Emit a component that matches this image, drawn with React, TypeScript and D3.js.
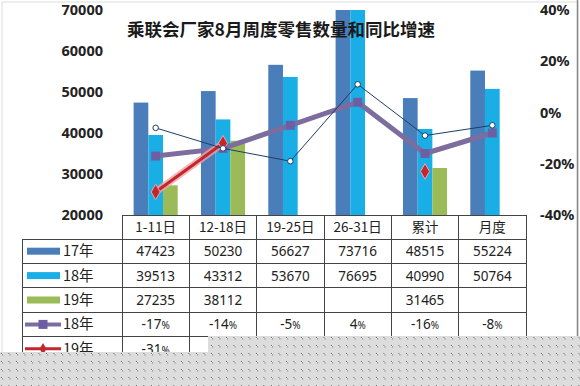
import * as React from 'react';
import * as d3 from 'd3';

const categories = ['1-11日', '12-18日', '19-25日', '26-31日', '累计', '月度'];
const sales17 = [47423, 50230, 56627, 73716, 48515, 55224];
const sales18 = [39513, 43312, 53670, 76695, 40990, 50764];
const sales19: (number | null)[] = [27235, 38112, null, null, 31465, null];
const growth18 = [-17, -14, -5, 4, -16, -8];
const growth19: (number | null)[] = [-31, -12, null, null, -23, null];
// thin line shown in the plot but not in the table
const growthThin = [-6, -14, -19, 11, -9, -5];
const leftTicks = [20000, 30000, 40000, 50000, 60000, 70000];
const rightTicks = [-40, -20, 0, 20, 40];
const barSeries = ['17年', '18年', '19年'];

const C17 = '#4a7ebb';
const C18 = '#1aaee6';
const C19 = '#9bbb59';
const CPURPLE = '#7d6c9e';
const CRED = '#c1272d';
const CTHIN = '#1f3d66';

const W = 580;
const H = 386;
const plotTop = 10;
const plotBottom = 215;
const tableLeft = 122;
const tableRight = 526;
const legendLeft = 22;
const rowH = 24.4;
const headerBottom = 239;

const cjk = '"Noto Sans CJK SC", "Noto Sans", sans-serif';
const num = '"Noto Sans", "Liberation Sans", sans-serif';

const x0 = d3.scaleBand<string>().domain(categories).range([tableLeft, tableRight]).padding(0);
const x1 = d3.scaleBand<string>().domain(barSeries).range([0, x0.bandwidth()]).paddingInner(0).paddingOuter(0.79);
const yL = d3.scaleLinear().domain([20000, 70000]).range([plotBottom, plotTop]);
const yR = d3.scaleLinear().domain([-40, 40]).range([plotBottom, plotTop]);

const cx = (i: number) => (x0(categories[i]) || 0) + x0.bandwidth() / 2;

const lineGen = d3
  .line<number | null>()
  .defined((d) => d != null)
  .x((d, i) => cx(i))
  .y((d) => yR(d as number));

const Pct: React.FC<{ v: number | null; x: number; y: number }> = ({ v, x, y }) =>
  v == null ? null : (
    <text x={x} y={y} textAnchor="middle" fontFamily={num} fontSize={13.5} fill="#222">
      {v}
      <tspan fontSize={10}>%</tspan>
    </text>
  );

const App: React.FC = () => {
  const barData = [sales17, sales18, sales19];
  const barColors = [C17, C18, C19];
  const rowsY = d3.range(6).map((k) => headerBottom + k * rowH);
  const diamond = d3.symbol(d3.symbolDiamond, 70)() || '';

  const legendItems = [
    { label: '17年', kind: 'bar', color: C17 },
    { label: '18年', kind: 'bar', color: C18 },
    { label: '19年', kind: 'bar', color: C19 },
    { label: '18年', kind: 'square', color: CPURPLE },
    { label: '19年', kind: 'diamond', color: CRED },
  ];
  const tableRows: ((number | null)[] | null)[] = [sales17, sales18, sales19];
  const pctRows = [growth18, growth19];

  return (
    <svg width={W} height={H} style={{ position: 'absolute', left: 0, top: 0, background: '#fff' }}>
      <defs>
        <clipPath id="plotClip">
          <rect x={0} y={plotTop} width={W} height={plotBottom - plotTop} />
        </clipPath>
        <pattern id="dots" width={7.5} height={8} patternUnits="userSpaceOnUse">
          <rect width={7.5} height={8} fill="#dddddd" />
          <rect x={1} y={1} width={1} height={1} fill="#555" />
          <rect x={2} y={1} width={1} height={1} fill="#f4f4f4" />
          <rect x={1} y={2} width={1} height={1} fill="#f4f4f4" />
          <rect x={2} y={2} width={1} height={1} fill="#888" />
          <rect x={2} y={3} width={1} height={1} fill="#aaa" />
        </pattern>
      </defs>
      <rect x={2} y={2} width={W - 4} height={H - 4} fill="#fff" stroke="#dedede" />

      {/* bars */}
      <g clipPath="url(#plotClip)">
        {barData.map((series, s) =>
          series.map((v, i) =>
            v == null ? null : (
              <rect
                key={`${s}-${i}`}
                x={(x0(categories[i]) || 0) + (x1(barSeries[s]) || 0)}
                y={yL(v)}
                width={x1.bandwidth()}
                height={plotBottom - yL(v)}
                fill={barColors[s]}
              />
            ),
          ),
        )}
      </g>

      {/* title */}
      <text x={281} y={36} textAnchor="middle" fontFamily={cjk} fontWeight="bold" fontSize={17.5} fill="#1a1a1a">
        乘联会厂家8月周度零售数量和同比增速
      </text>

      {/* purple line */}
      <path d={lineGen(growth18) || ''} fill="none" stroke={CPURPLE} strokeWidth={5} strokeLinejoin="round" />
      {growth18.map((v, i) => (
        <rect key={i} x={cx(i) - 4.5} y={yR(v) - 4.5} width={9} height={9} fill="#6d5fa3" />
      ))}

      {/* red line with glow */}
      <path d={lineGen(growth19) || ''} fill="none" stroke="#f2a3a6" strokeOpacity={0.8} strokeWidth={7} strokeLinecap="round" />
      <path d={lineGen(growth19) || ''} fill="none" stroke={CRED} strokeWidth={3} />
      {growth19.map((v, i) =>
        v == null ? null : (
          <path key={i} d={diamond} transform={`translate(${cx(i)},${yR(v)})`} fill={CRED} stroke="#f2a3a6" strokeWidth={1} />
        ),
      )}

      {/* thin line */}
      <path d={lineGen(growthThin) || ''} fill="none" stroke={CTHIN} strokeWidth={1} />
      {growthThin.map((v, i) => (
        <circle key={i} cx={cx(i)} cy={yR(v)} r={2.8} fill="#fff" stroke={CTHIN} strokeWidth={1} />
      ))}

      {/* left axis */}
      {leftTicks.map((t) => (
        <text key={t} x={103} y={yL(t) + 5} textAnchor="end" fontFamily={num} fontWeight="bold" fontSize={14.5} fill="#222">
          {t}
        </text>
      ))}
      {/* right axis */}
      {rightTicks.map((t) => (
        <text key={t} x={540} y={yR(t) + 5} textAnchor="start" fontFamily={num} fontWeight="bold" fontSize={14.5} fill="#222">
          {t}%
        </text>
      ))}

      {/* data table */}
      <g stroke="#444" strokeWidth={1} shapeRendering="crispEdges">
        <line x1={tableLeft} x2={tableRight} y1={plotBottom} y2={plotBottom} />
        {rowsY.map((ry, k) => (
          <line key={k} x1={legendLeft} x2={tableRight} y1={ry} y2={ry} />
        ))}
        <line x1={legendLeft} x2={legendLeft} y1={headerBottom} y2={H} />
        {categories.map((c) => (
          <line key={c} x1={x0(c)} x2={x0(c)} y1={plotBottom} y2={H} />
        ))}
        <line x1={tableRight} x2={tableRight} y1={plotBottom} y2={H} />
      </g>
      {categories.map((c, i) => (
        <text key={c} x={cx(i)} y={plotBottom + 17} textAnchor="middle" fontFamily={cjk} fontSize={13.5} fill="#222">
          {c}
        </text>
      ))}
      {legendItems.map((it, k) => {
        const my = headerBottom + k * rowH + rowH / 2;
        return (
          <g key={k}>
            {it.kind === 'bar' ? (
              <rect x={27} y={my - 3.5} width={33} height={7} fill={it.color} />
            ) : (
              <>
                <line x1={25} x2={61} y1={my} y2={my} stroke={it.color} strokeWidth={it.kind === 'square' ? 4 : 3} />
                {it.kind === 'square' ? (
                  <rect x={38.5} y={my - 4.5} width={9} height={9} fill="#6d5fa3" />
                ) : (
                  <path d={d3.symbol(d3.symbolDiamond, 40)() || ''} transform={`translate(43,${my})`} fill={it.color} />
                )}
              </>
            )}
            <text x={63} y={my + 5} fontFamily={cjk} fontSize={14.5} fill="#222">
              {it.label}
            </text>
          </g>
        );
      })}
      {tableRows.map((row, k) =>
        (row || []).map((v, i) =>
          v == null ? null : (
            <text key={`${k}-${i}`} x={cx(i)} y={headerBottom + k * rowH + rowH / 2 + 5} textAnchor="middle" fontFamily={num} fontSize={13.5} fill="#222">
              {v}
            </text>
          ),
        ),
      )}
      {pctRows.map((row, k) =>
        row.map((v, i) => <Pct key={`${k}-${i}`} v={v} x={cx(i)} y={headerBottom + (k + 3) * rowH + rowH / 2 + 5} />),
      )}

      {/* right frame line */}
      <line x1={577.5} x2={577.5} y1={0} y2={336} stroke="#888" strokeWidth={1.5} />

      {/* dotted overlay at the bottom */}
      <rect x={0} y={352} width={W} height={H - 352} fill="url(#dots)" />
      <rect x={208} y={336} width={W - 208} height={16} fill="url(#dots)" />
    </svg>
  );
};

export default App;
